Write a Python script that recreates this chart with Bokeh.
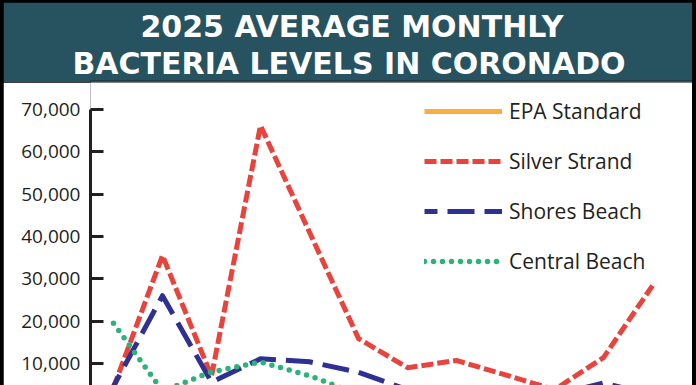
from bokeh.plotting import figure
from bokeh.models import FixedTicker, NumeralTickFormatter, Title, Range1d
from bokeh.layouts import column
from bokeh.embed import file_html
from bokeh.resources import INLINE

# ---- data ----
months = [1, 2, 3, 4, 5, 6, 7, 8, 9, 10, 11, 12]
epa_standard = [104, 104, 104, 104, 104, 104, 104, 104, 104, 104, 104, 104]
silver_strand = [4300, 35500, 7000, 66200, 41000, 15900, 9000, 10700, 7300, 3800, 11400, 28400]
shores_beach = [4600, 26000, 5600, 11100, 10400, 7900, 3800, 2200, 1800, 2500, 5400, 2500]
central_beach = [19500, 3500, 8000, 10350, 7100, 2700, 2000, 1800, 1500, 1500, 1500, 1500]
y_ticks = [0, 10000, 20000, 30000, 40000, 50000, 60000, 70000]
title_lines = ["2025 AVERAGE MONTHLY", "BACTERIA LEVELS IN CORONADO"]
series_names = ["EPA Standard", "Silver Strand", "Shores Beach", "Central Beach"]

TEAL = "#27525f"
TEXT = "#231f20"

# ---- title band ----
top = figure(width=689, height=80, toolbar_location=None, output_backend="svg",
             x_axis_location=None, y_axis_location=None, min_border=0,
             min_border_top=78, x_range=Range1d(0, 1), y_range=Range1d(0, 1),
             margin=(2, 4, 0, 3))
top.background_fill_color = TEAL
top.border_fill_color = TEAL
top.outline_line_color = None
top.grid.visible = False
# second line first: later titles stack above earlier ones
for line, shift in [(title_lines[1], -18), (title_lines[0], 50)]:
    top.add_layout(Title(text=line, align="left", offset=shift, standoff=0,
                         text_font="DejaVu Sans", text_font_style="bold",
                         text_font_size="30px", text_color="white"), "above")

# ---- chart ----
p = figure(width=689, height=303, toolbar_location=None, output_backend="svg",
           x_axis_location=None, min_border_left=87, min_border_right=0,
           min_border_top=0, min_border_bottom=0, margin=(0, 4, 0, 3),
           x_range=Range1d(0.531, 12.816), y_range=Range1d(4795, 76370))
p.outline_line_color = None
p.grid.visible = False
p.background_fill_color = "white"
p.border_fill_color = "white"

yax = p.yaxis[0]
yax.ticker = FixedTicker(ticks=y_ticks)
yax.formatter = NumeralTickFormatter(format="0,0")
yax.bounds = (0, 70000)
yax.major_tick_in = 13
yax.major_tick_out = 0
yax.minor_tick_line_color = None
yax.axis_line_width = 3
yax.major_tick_line_width = 3
yax.axis_line_color = TEXT
yax.major_tick_line_color = TEXT
yax.major_label_standoff = 10
yax.major_label_text_font = "Open Sans"
yax.major_label_text_font_size = "19px"
yax.major_label_text_color = TEXT

p.line(months, epa_standard, line_color="#f9ae42", line_width=5,
       legend_label=series_names[0])
p.line(months, silver_strand, line_color="#e8433d", line_width=5,
       line_dash="12 4", line_join="round", legend_label=series_names[1])
p.line(months, shores_beach, line_color="#2e3192", line_width=5,
       line_dash="27 10", line_dash_offset=14, line_join="round",
       legend_label=series_names[2])
p.line(months, central_beach, line_color="#2db37a", line_width=5.5,
       line_dash="0 9", line_cap="round", line_join="round",
       legend_label=series_names[3])

lg = p.legend[0]
lg.location = (334, 110)
lg.border_line_color = None
lg.background_fill_alpha = 0
lg.padding = 0
lg.margin = 0
lg.spacing = 22
lg.glyph_width = 78
lg.glyph_height = 20
lg.label_height = 20
lg.label_standoff = 7
lg.label_text_font = "Open Sans"
lg.label_text_font_size = "21px"
lg.label_text_color = TEXT

layout = column(top, p, spacing=0, styles={"background-color": "black"})
open("out.html", "w").write(file_html(layout, INLINE))
